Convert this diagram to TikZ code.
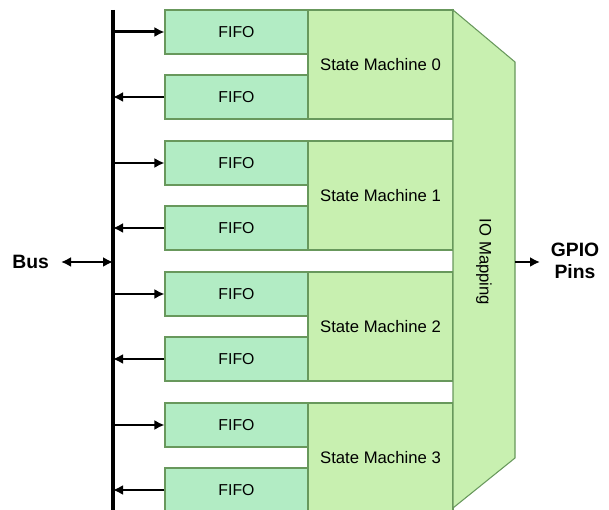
\documentclass[tikz,border=0pt]{standalone}
\usepackage{fontspec}
\setmainfont{Liberation Sans}
\usetikzlibrary{arrows.meta,positioning,calc}
\definecolor{fifofill}{RGB}{178,236,196}
\definecolor{smfill}{RGB}{200,240,176}
\definecolor{boxline}{RGB}{104,152,92}
\tikzset{
  fifo/.style={rectangle, draw=boxline, fill=fifofill, line width=0.6pt,
               minimum width=2.86cm, minimum height=0.88cm, inner sep=0pt,
               font=\fontsize{9}{11}\selectfont},
  statemach/.style={rectangle, draw=boxline, fill=smfill, line width=0.6pt,
               minimum width=2.9cm, minimum height=2.18cm, inner sep=0pt,
               font=\fontsize{9.5}{11}\selectfont},
  flow/.style={-{Latex[length=2mm,width=2mm]}, line width=1.7pt},
  flowboth/.style={{Latex[length=2mm,width=2mm]}-{Latex[length=2mm,width=2mm]}, line width=1.7pt},
  etiq/.style={font=\fontsize{11}{12.5}\selectfont\bfseries, align=center, inner sep=1pt}
}
\begin{document}
\begin{tikzpicture}
\useasboundingbox (0,0) rectangle (12.18,-10.2);

% state machines
\node[statemach] (sm0) at (7.61,-1.29) {State Machine 0};
\node[statemach] (sm1) at (7.61,-3.91) {State Machine 1};
\node[statemach] (sm2) at (7.61,-6.53) {State Machine 2};
\node[statemach] (sm3) at (7.61,-9.15) {State Machine 3};

% fifos
\node[fifo] (fifo0a) at (4.73,-0.64) {FIFO};
\node[fifo] (fifo0b) at (4.73,-1.94) {FIFO};
\node[fifo] (fifo1a) at (4.73,-3.26) {FIFO};
\node[fifo] (fifo1b) at (4.73,-4.56) {FIFO};
\node[fifo] (fifo2a) at (4.73,-5.88) {FIFO};
\node[fifo] (fifo2b) at (4.73,-7.18) {FIFO};
\node[fifo] (fifo3a) at (4.73,-8.50) {FIFO};
\node[fifo] (fifo3b) at (4.73,-9.80) {FIFO};

% io mapping
\coordinate (ioTL) at (9.06,-0.2);
\coordinate (ioTR) at (10.3,-1.24);
\coordinate (ioBR) at (10.3,-9.16);
\coordinate (ioBL) at (9.06,-10.16);
\draw[draw=boxline, fill=smfill, line width=0.6pt] (ioTL) -- (ioTR) -- (ioBR) -- (ioBL) -- cycle;
\node[rotate=-90, font=\fontsize{9.5}{11}\selectfont] (iomap) at (9.68,-5.24) {IO Mapping};
\coordinate (ioR) at (10.3,-5.24);

% bus
\coordinate (busT) at (2.26,-0.2);
\coordinate (busB) at (2.26,-10.2);
\draw[line width=2.3pt] (busT) -- (busB);
\coordinate (busL) at (1.22,-5.24);
\node[etiq, left=0.2cm of busL] (bus) {Bus};
\node[etiq] (gpio) at (11.5,-5.22) {GPIO\\Pins};
\coordinate (gpioL) at (10.8,-5.24);

\draw[flow] (fifo0a.west -| busT) -- (fifo0a.west);
\draw[flow] (fifo0b.west) -- (fifo0b.west -| busT);
\draw[flow] (fifo1a.west -| busT) -- (fifo1a.west);
\draw[flow] (fifo1b.west) -- (fifo1b.west -| busT);
\draw[flow] (fifo2a.west -| busT) -- (fifo2a.west);
\draw[flow] (fifo2b.west) -- (fifo2b.west -| busT);
\draw[flow] (fifo3a.west -| busT) -- (fifo3a.west);
\draw[flow] (fifo3b.west) -- (fifo3b.west -| busT);

\draw[flowboth] (busL) -- (busL -| busT);
\draw[flow] (ioR) -- (gpioL);
\end{tikzpicture}
\end{document}
